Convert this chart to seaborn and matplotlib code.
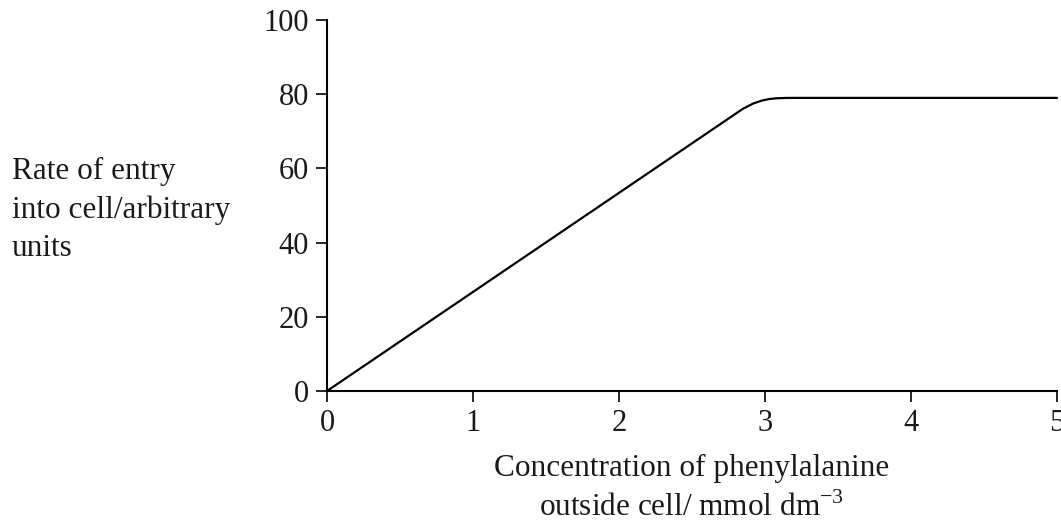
import seaborn as sns
import matplotlib.pyplot as plt
import pandas as pd

sns.set_theme(style="ticks")
plt.rcParams['font.family'] = ['Liberation Serif', 'DejaVu Serif']
plt.rcParams['mathtext.fontset'] = 'custom'
plt.rcParams['mathtext.rm'] = 'Liberation Serif'

# values
concentration = [0, 2.85, 2.92, 2.98, 3.03, 3.08, 3.15, 3.25, 5.0]
rate = [0, 76.1, 77.5, 78.3, 78.7, 78.9, 79.0, 79.0, 79.0]
x_ticks = [0, 1, 2, 3, 4, 5]
y_ticks = [0, 20, 40, 60, 80, 100]

df = pd.DataFrame({'conc': concentration, 'rate': rate})

fig = plt.figure(figsize=(10.61, 5.30), dpi=100)
ax = fig.add_axes([327/1061, 139/530, 730/1061, 371/530])

sns.lineplot(data=df, x='conc', y='rate', ax=ax, color='black', linewidth=1.6,
             clip_on=False)

ax.set_xlim(0, 5)
ax.set_ylim(0, 100)
ax.set_xticks(x_ticks)
ax.set_yticks(y_ticks)
ax.set_xlabel('')
ax.set_ylabel('')
ax.tick_params(axis='both', labelsize=22, length=8, width=1.2, color='black',
               labelcolor='#1a1a1a', pad=5)
for s in ['top', 'right']:
    ax.spines[s].set_visible(False)
for s in ['left', 'bottom']:
    ax.spines[s].set_color('black')
    ax.spines[s].set_linewidth(1.5)

# y label sits to the left, horizontal
fig.text(12/1061, 320/530, 'Rate of entry\ninto cell/arbitrary\nunits',
         ha='left', va='center', fontsize=22.5, color='#1a1a1a', linespacing=1.42)
fig.text(692/1061, 76/530,
         'Concentration of phenylalanine\noutside cell/ mmol dm$^{\\mathregular{-3}}$',
         ha='center', va='top', fontsize=22.5, color='#1a1a1a', linespacing=1.38)

fig.savefig('out.png', dpi=100)
